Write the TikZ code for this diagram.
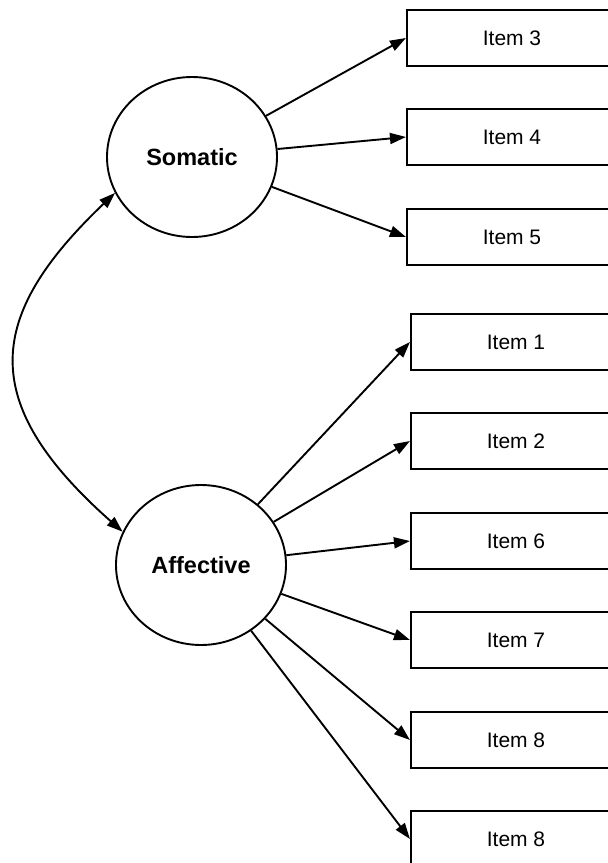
\documentclass[tikz,border=0pt]{standalone}
\usepackage{fontspec}
\setmainfont{Liberation Sans}
\usetikzlibrary{shapes.geometric, arrows.meta}

\begin{document}
\begin{tikzpicture}[x=1pt, y=-1pt,
    factor/.style={draw, ellipse, line width=1.9pt, minimum width=170pt, minimum height=160pt, inner sep=0pt,
        font=\fontsize{23.5}{28}\selectfont\bfseries},
    item/.style={draw, rectangle, line width=2.1pt, minimum width=210pt, minimum height=56pt, inner sep=0pt,
        font=\fontsize{21}{25}\selectfont},
    load/.style={line width=1.9pt, -{Triangle[length=16pt, width=11pt]}}]
    \useasboundingbox (0,0) rectangle (608,863);

    % factors
    \node[factor] (som) at (192,157) {Somatic};
    \node[factor] (aff) at (201,565) {Affective};

    % items
    \node[item] (i3) at (512,38) {Item 3};
    \node[item] (i4) at (512,137) {Item 4};
    \node[item] (i5) at (512,237) {Item 5};
    \node[item] (i1) at (516,342) {Item 1};
    \node[item] (i2) at (516,441) {Item 2};
    \node[item] (i6) at (516,541) {Item 6};
    \node[item] (i7) at (516,640) {Item 7};
    \node[item] (i8) at (516,740) {Item 8};
    \node[item] (i8b) at (516,839) {Item 8};

    % loadings
    \foreach \i in {i3,i4,i5}
        \draw[load] (som) -- (\i.west);
    \foreach \i in {i1,i2,i6,i7,i8,i8b}
        \draw[load] (aff) -- (\i.west);

    % covariance
    \draw[line width=1.9pt, {Triangle[length=16pt, width=11pt]}-{Triangle[length=16pt, width=11pt]}]
        (som.205) .. controls (-14,316) and (-24,402) .. (aff.157);
\end{tikzpicture}
\end{document}
